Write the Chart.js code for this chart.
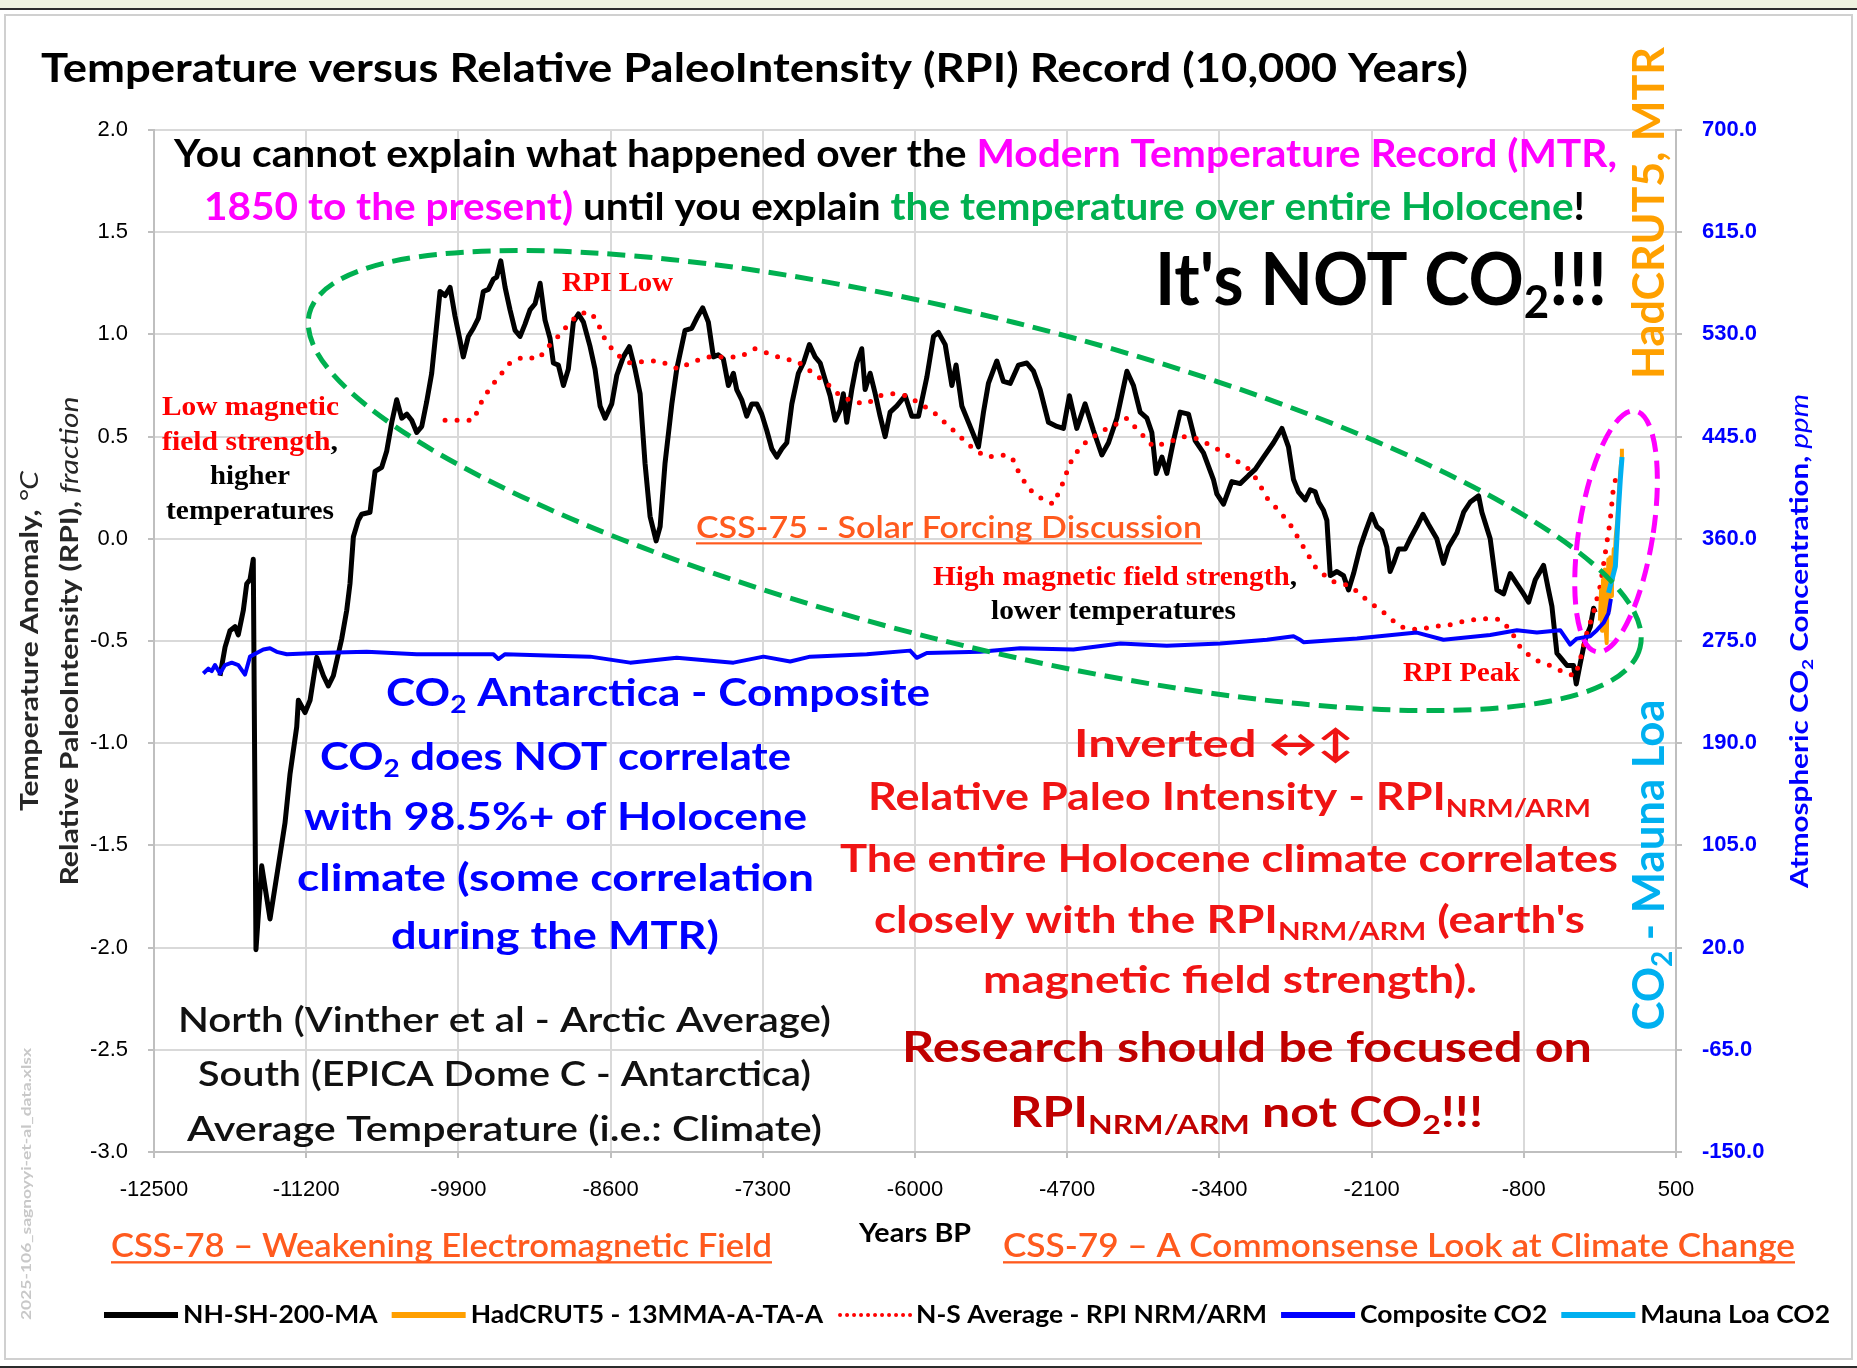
<!DOCTYPE html>
<html>
<head>
<meta charset="utf-8">
<title>Temperature versus RPI Record</title>
<script src="https://cdn.jsdelivr.net/npm/chart.js@4.4.1/dist/chart.umd.min.js"></script>
<style>
  html, body { margin: 0; padding: 0; background: #fff; }
  canvas { display: block; }
</style>
</head>
<body>
<canvas id="chart" width="1857" height="1368"></canvas>
<script>
// ===== DATA =====
// [year BP, value] pairs

// NH-SH-200-MA temperature anomaly, degC
const NH_SH_200_MA = [
  [-11936,-0.67],[-11893,-0.53],[-11851,-0.45],[-11808,-0.43],[-11780,-0.47],[-11737,-0.35],
  [-11708,-0.22],[-11680,-0.20],[-11652,-0.10],[-11629,-2.01],[-11580,-1.60],[-11509,-1.86],
  [-11438,-1.60],[-11381,-1.39],[-11338,-1.15],[-11281,-0.92],[-11267,-0.79],[-11210,-0.85],
  [-11167,-0.79],[-11110,-0.58],[-11053,-0.67],[-11011,-0.72],[-10968,-0.67],[-10897,-0.49],
  [-10854,-0.35],[-10826,-0.22],[-10797,0.01],[-10755,0.09],[-10726,0.12],[-10655,0.13],
  [-10612,0.33],[-10555,0.35],[-10512,0.43],[-10469,0.57],[-10427,0.68],[-10384,0.59],
  [-10341,0.61],[-10299,0.58],[-10256,0.52],[-10213,0.55],[-10171,0.67],[-10128,0.81],
  [-10085,1.05],[-10057,1.21],[-10014,1.19],[-9971,1.23],[-9929,1.09],[-9886,0.97],
  [-9858,0.89],[-9815,0.99],[-9772,1.03],[-9729,1.08],[-9687,1.21],[-9644,1.22],
  [-9601,1.27],[-9573,1.28],[-9538,1.36],[-9501,1.23],[-9459,1.12],[-9416,1.02],
  [-9373,0.99],[-9331,1.05],[-9288,1.12],[-9245,1.15],[-9202,1.25],[-9160,1.07],
  [-9117,0.98],[-9089,0.86],[-9046,0.85],[-9003,0.75],[-8961,0.83],[-8918,1.06],
  [-8875,1.10],[-8832,1.06],[-8775,0.94],[-8733,0.83],[-8690,0.65],[-8647,0.59],
  [-8590,0.66],[-8547,0.80],[-8491,0.89],[-8440,0.94],[-8391,0.83],[-8348,0.71],
  [-8306,0.37],[-8263,0.11],[-8211,-0.01],[-8177,0.06],[-8135,0.37],[-8077,0.66],
  [-8035,0.83],[-7964,1.02],[-7907,1.03],[-7864,1.08],[-7813,1.13],[-7765,1.06],
  [-7722,0.89],[-7680,0.90],[-7637,0.88],[-7594,0.75],[-7551,0.81],[-7523,0.73],
  [-7480,0.68],[-7437,0.60],[-7394,0.66],[-7351,0.66],[-7309,0.61],[-7266,0.53],
  [-7223,0.44],[-7180,0.40],[-7138,0.44],[-7095,0.47],[-7052,0.66],[-6996,0.81],
  [-6953,0.86],[-6902,0.95],[-6853,0.89],[-6810,0.86],[-6768,0.78],[-6725,0.70],
  [-6682,0.58],[-6640,0.63],[-6612,0.71],[-6583,0.57],[-6540,0.73],[-6497,0.86],
  [-6455,0.93],[-6426,0.73],[-6383,0.81],[-6340,0.71],[-6298,0.60],[-6255,0.50],
  [-6212,0.62],[-6155,0.65],[-6084,0.70],[-6027,0.60],[-5970,0.60],[-5899,0.79],
  [-5842,0.99],[-5800,1.01],[-5742,0.95],[-5685,0.75],[-5649,0.85],[-5600,0.65],
  [-5529,0.55],[-5458,0.45],[-5415,0.62],[-5373,0.76],[-5301,0.87],[-5245,0.77],
  [-5187,0.76],[-5116,0.85],[-5045,0.86],[-4988,0.82],[-4931,0.73],[-4860,0.57],
  [-4788,0.55],[-4732,0.54],[-4681,0.70],[-4618,0.54],[-4547,0.66],[-4476,0.53],
  [-4404,0.41],[-4347,0.47],[-4276,0.59],[-4190,0.82],[-4134,0.75],[-4077,0.62],
  [-4019,0.59],[-3977,0.52],[-3940,0.32],[-3891,0.40],[-3849,0.32],[-3792,0.48],
  [-3735,0.62],[-3664,0.61],[-3607,0.48],[-3536,0.42],[-3451,0.29],[-3422,0.22],
  [-3365,0.17],[-3294,0.28],[-3223,0.27],[-3151,0.31],[-3094,0.34],[-3023,0.40],
  [-2938,0.47],[-2866,0.54],[-2810,0.45],[-2767,0.29],[-2725,0.23],[-2667,0.19],
  [-2624,0.24],[-2582,0.23],[-2553,0.18],[-2511,0.14],[-2482,0.09],[-2453,-0.18],
  [-2396,-0.16],[-2340,-0.18],[-2297,-0.25],[-2254,-0.17],[-2197,-0.04],[-2155,0.03],
  [-2098,0.12],[-2055,0.06],[-2012,0.04],[-1970,-0.04],[-1942,-0.16],[-1913,-0.12],
  [-1870,-0.05],[-1813,-0.05],[-1771,0.00],[-1714,0.06],[-1662,0.12],[-1614,0.07],
  [-1543,0.00],[-1486,-0.12],[-1443,-0.04],[-1371,0.03],[-1314,0.13],[-1257,0.18],
  [-1186,0.21],[-1158,0.13],[-1087,0.00],[-1030,-0.25],[-973,-0.27],[-916,-0.17],
  [-859,-0.22],[-802,-0.27],[-759,-0.31],[-702,-0.20],[-631,-0.13],[-589,-0.25],
  [-560,-0.33],[-517,-0.56],[-474,-0.59],[-431,-0.62],[-375,-0.62],[-352,-0.71],
  [-318,-0.61],[-275,-0.49],[-232,-0.43],[-204,-0.34],[-190,-0.36]
];

// HadCRUT5 - 13MMA-A-TA-A, degC
const HADCRUT5_13MMA = [
  [-150,-0.40],[-140,-0.25],[-132,-0.45],[-124,-0.20],[-116,-0.38],[-108,-0.15],
  [-100,-0.45],[-92,-0.51],[-85,-0.30],[-78,-0.10],[-70,-0.35],[-62,-0.09],
  [-55,-0.28],[-47,-0.12],[-40,-0.20],[-32,-0.05],[-24,-0.12],[-16,0.00],
  [-8,0.05],[0,0.10],[8,0.18],[16,0.26],[24,0.33],[32,0.38],[38,0.44]
];

// N-S Average - RPI NRM/ARM (inverted), fraction
const RPI_NS_AVERAGE = [
  [-10014,0.58],[-9772,0.58],[-9687,0.69],[-9573,0.78],[-9459,0.86],[-9345,0.89],
  [-9217,0.88],[-9117,0.95],[-9031,1.00],[-8946,1.06],[-8861,1.10],[-8781,1.11],
  [-8718,1.07],[-8662,0.99],[-8590,0.93],[-8519,0.89],[-8433,0.86],[-8291,0.87],
  [-8177,0.87],[-8021,0.83],[-7921,0.86],[-7779,0.89],[-7637,0.89],[-7494,0.89],
  [-7366,0.93],[-7266,0.91],[-7124,0.88],[-7010,0.87],[-6868,0.81],[-6753,0.76],
  [-6640,0.70],[-6526,0.67],[-6412,0.66],[-6298,0.70],[-6184,0.71],[-6070,0.70],
  [-5956,0.66],[-5842,0.62],[-5728,0.56],[-5614,0.50],[-5501,0.44],[-5387,0.40],
  [-5258,0.41],[-5173,0.40],[-5102,0.31],[-5017,0.24],[-4903,0.19],[-4817,0.17],
  [-4746,0.26],[-4675,0.37],[-4589,0.45],[-4476,0.50],[-4362,0.54],[-4248,0.57],
  [-4191,0.59],[-4077,0.52],[-3963,0.45],[-3849,0.47],[-3707,0.50],[-3592,0.49],
  [-3450,0.45],[-3308,0.40],[-3165,0.35],[-3080,0.29],[-2994,0.20],[-2881,0.13],
  [-2795,0.07],[-2682,-0.04],[-2568,-0.15],[-2425,-0.21],[-2283,-0.23],[-2140,-0.30],
  [-1998,-0.36],[-1856,-0.43],[-1714,-0.445],[-1571,-0.43],[-1429,-0.42],[-1287,-0.40],
  [-1145,-0.39],[-1001,-0.395],[-916,-0.445],[-831,-0.53],[-717,-0.59],[-575,-0.62],
  [-432,-0.66],[-361,-0.67],[-318,-0.59],[-261,-0.46],[-204,-0.36],[-147,-0.23],
  [-104,-0.07],[-62,0.09],[-33,0.26],[-5,0.31]
];

// Composite CO2 (Antarctica), ppm
const CO2_COMPOSITE = [
  [-12079,248],[-12036,252],[-12007,250],[-11979,255],[-11936,248],[-11893,255],
  [-11836,257],[-11780,255],[-11723,247],[-11680,262],[-11623,265],[-11566,268],
  [-11509,269],[-11452,266],[-11366,264],[-11110,265],[-10683,266],[-10256,264],
  [-9601,264],[-9559,260],[-9501,264],[-9146,263],[-8775,262],[-8433,257],
  [-8035,261],[-7551,257],[-7294,262],[-7066,258],[-6896,262],[-6412,264],
  [-6042,267],[-5985,261],[-5899,265],[-5444,266],[-5102,269],[-4647,268],
  [-4246,273],[-3849,271],[-3393,273],[-2994,276],[-2767,279],[-2710,276],
  [-2682,274],[-2225,277],[-1714,282],[-1486,276],[-1087,280],[-859,284],
  [-688,282],[-489,284],[-404,272],[-347,277],[-233,279],[-176,284],
  [-119,290],[-77,298],[-56,310]
];

// Mauna Loa CO2, ppm
const CO2_MAUNA_LOA = [
  [-76,315],[-47,326],[-18,337],[-4,362],[10,387],[24,409],[39,428]
];

const SERIES_LABELS = ['NH-SH-200-MA', 'HadCRUT5 - 13MMA-A-TA-A', 'N-S Average - RPI NRM/ARM', 'Composite CO2', 'Mauna Loa CO2'];

const X_TICKS = [-12500, -11200, -9900, -8600, -7300, -6000, -4700, -3400, -2100, -800, 500];
const Y_TICKS = [-3.0, -2.5, -2.0, -1.5, -1.0, -0.5, 0.0, 0.5, 1.0, 1.5, 2.0];
const Y2_TICKS = [-150, -65, 20, 105, 190, 275, 360, 445, 530, 615, 700];

// ===== STYLE =====
const SANS = 'Lato, "Open Sans", "DejaVu Sans", sans-serif';
const SERIF = '"Liberation Serif", "Times New Roman", serif';
const TICK_FONT = '"Liberation Sans", Arial, sans-serif';
const C = {
  magenta: '#ff00ff', green: '#00b050', red: '#ff0000', red2: '#f01414', darkred: '#c00000',
  blue: '#0000ff', link: '#ff5a1e', orange: '#ffa000', cyan: '#00b0f0', grid: '#d9d9d9'
};

// annotation ellipses (centre in data units, radii in px)
const ELLIPSES = [
  { year: -5490, value: 0.285, rx: 686, ry: 163, rot: 14.1, color: C.green },
  { year: -12, value: 0.036, rx: 37, ry: 122, rot: 9.1, color: C.magenta }
];

// annotation texts: x,y = left/middle (or centre when align:'center'), w = target width
const TEXTS = [
  { x: 41, y: 69, w: 1427, size: 41, segs: [['Temperature versus Relative PaleoIntensity (RPI) Record (10,000 Years)', '#000']] },
  { x: 174, y: 155, w: 1443, size: 38, segs: [['You cannot explain what happened over the ', '#000'], ['Modern Temperature Record (MTR,', C.magenta]] },
  { x: 204, y: 208, w: 1381, size: 38, segs: [['1850 to the present)', C.magenta], [' until you explain ', '#000'], ['the temperature over entire Holocene', C.green], ['!', '#000']] },
  { x: 1155, y: 282, w: 452, size: 72, segs: [["It's NOT CO", '#000'], ['2', '#000', 'sub'], ['!!!', '#000']] },

  { x: 562, y: 284, w: 111, size: 28, family: SERIF, segs: [['RPI Low', C.red]] },
  { x: 162, y: 408, w: 177, size: 28, family: SERIF, segs: [['Low magnetic', C.red]] },
  { x: 162, y: 443, w: 176, size: 28, family: SERIF, segs: [['field strength', C.red], [',', '#000']] },
  { x: 210, y: 477, w: 80, size: 28, family: SERIF, segs: [['higher', '#000']] },
  { x: 166, y: 512, w: 168, size: 28, family: SERIF, segs: [['temperatures', '#000']] },
  { x: 696, y: 528, w: 506, size: 31, weight: 600, underline: true, segs: [['CSS-75 - Solar Forcing Discussion', C.link]] },
  { x: 933, y: 578, w: 364, size: 28, family: SERIF, segs: [['High magnetic field strength', C.red], [',', '#000']] },
  { x: 991, y: 612, w: 245, size: 28, family: SERIF, segs: [['lower temperatures', '#000']] },
  { x: 1403, y: 674, w: 117, size: 28, family: SERIF, segs: [['RPI Peak', C.red]] },

  { x: 386, y: 694, w: 544, size: 38, segs: [['CO', C.blue], ['2', C.blue, 'sub'], [' Antarctica - Composite', C.blue]] },
  { x: 320, y: 758, w: 471, size: 38, segs: [['CO', C.blue], ['2', C.blue, 'sub'], [' does NOT correlate', C.blue]] },
  { x: 304, y: 818, w: 503, size: 38, segs: [['with 98.5%+ of Holocene', C.blue]] },
  { x: 297, y: 879, w: 517, size: 38, segs: [['climate (some correlation', C.blue]] },
  { x: 391, y: 937, w: 328, size: 38, segs: [['during the MTR)', C.blue]] },

  { x: 178, y: 1021, w: 653, size: 34, weight: 600, segs: [['North (Vinther et al - Arctic Average)', '#111']] },
  { x: 198, y: 1075, w: 613, size: 34, weight: 600, segs: [['South (EPICA Dome C - Antarctica)', '#111']] },
  { x: 187, y: 1130, w: 635, size: 34, weight: 600, segs: [['Average Temperature (i.e.: Climate)', '#111']] },

  { x: 1074, y: 745, w: 280, size: 38, segs: [['Inverted \u2194\u2195', C.red2]] },
  { x: 868, y: 798, w: 723, size: 38, segs: [['Relative Paleo Intensity - RPI', C.red2], ['NRM/ARM', C.red2, 'sub']] },
  { x: 840, y: 860, w: 778, size: 38, segs: [['The entire Holocene climate correlates', C.red2]] },
  { x: 874, y: 921, w: 711, size: 38, segs: [['closely with the RPI', C.red2], ['NRM/ARM', C.red2, 'sub'], [" (earth's", C.red2]] },
  { x: 983, y: 981, w: 494, size: 38, segs: [['magnetic field strength).', C.red2]] },
  { x: 902, y: 1048, w: 690, size: 42, segs: [['Research should be focused on', C.darkred]] },
  { x: 1010, y: 1113, w: 473, size: 42, segs: [['RPI', C.darkred], ['NRM/ARM', C.darkred, 'sub'], [' not CO', C.darkred], ['2', C.darkred, 'sub'], ['!!!', C.darkred]] },

  { x: 859, y: 1234, w: 112, size: 26, segs: [['Years BP', '#000']] },
  { x: 111, y: 1246, w: 661, size: 33, weight: 600, underline: true, segs: [['CSS-78 \u2013 Weakening Electromagnetic Field', C.link]] },
  { x: 1003, y: 1246, w: 792, size: 33, weight: 600, underline: true, segs: [['CSS-79 \u2013 A Commonsense Look at Climate Change', C.link]] },

  { x: 30, y: 641, w: 340, size: 25, align: 'center', rot: -90, segs: [['Temperature Anomaly, ', '#262626'], ['\u00b0C', '#262626', 'i n']] },
  { x: 70, y: 641, w: 489, size: 25, align: 'center', rot: -90, segs: [['Relative PaleoIntensity (RPI), ', '#262626'], ['fraction', '#262626', 'i n']] },
  { x: 1800, y: 641, w: 494, size: 25, align: 'center', rot: -90, segs: [['Atmospheric CO', C.blue], ['2', C.blue, 'sub'], [' Concentration, ', C.blue], ['ppm', C.blue, 'i n']] },
  { x: 1650, y: 213, w: 332, size: 44, align: 'center', rot: -90, segs: [['HadCRUT5, MTR', C.orange]] },
  { x: 1650, y: 865, w: 331, size: 44, align: 'center', rot: -90, segs: [['CO', C.cyan], ['2', C.cyan, 'sub'], [' - Mauna Loa', C.cyan]] },
  { x: 26, y: 1184, w: 272, size: 14, align: 'center', rot: -90, segs: [['2025-106_sagnoyyi-et-al_data.xlsx', '#c8c8c8']] }
];

// ===== DRAW HELPERS =====
function drawText(ctx, item) {
  const size = item.size;
  const family = item.family || SANS;
  const weight = item.weight || 700;
  const parts = item.segs.map(([t, color, flag = '']) => {
    const flags = flag.split(' ');
    const sub = flags.includes('sub');
    const fs = sub ? size * 0.64 : size;
    const font = `${flags.includes('i') ? 'italic ' : ''}${flags.includes('n') ? 400 : weight} ${fs}px ${family}`;
    ctx.font = font;
    return { t, color, sub, font, w: ctx.measureText(t).width };
  });
  const total = parts.reduce((s, p) => s + p.w, 0);
  const sx = item.w ? item.w / total : 1;

  ctx.save();
  ctx.translate(item.x, item.y);
  if (item.rot) ctx.rotate(item.rot * Math.PI / 180);
  ctx.scale(sx, 1);
  ctx.textBaseline = 'middle';
  ctx.textAlign = 'left';
  let cx = item.align === 'center' ? -total / 2 : 0;
  const x0 = cx;
  parts.forEach(p => {
    ctx.font = p.font;
    ctx.fillStyle = p.color;
    ctx.fillText(p.t, cx, p.sub ? size * 0.3 : 0);
    cx += p.w;
  });
  if (item.underline) {
    ctx.fillStyle = parts[0].color;
    ctx.fillRect(x0, size * 0.46, total, Math.max(2, size * 0.07));
  }
  ctx.restore();
}

// page frame, like the screenshot border
const framePlugin = {
  id: 'frame',
  beforeDraw(chart) {
    const { ctx, width, height } = chart;
    ctx.save();
    ctx.fillStyle = '#ffffff';
    ctx.fillRect(0, 0, width, height);
    ctx.fillStyle = '#eef2df';
    ctx.fillRect(0, 0, width, 8);
    ctx.fillStyle = '#2b2b2b';
    ctx.fillRect(0, 8, width, 2);
    ctx.fillRect(0, height - 2, width, 2);
    ctx.strokeStyle = '#d0d0d0';
    ctx.lineWidth = 2;
    ctx.strokeRect(5, 15, width - 10, height - 24);
    ctx.restore();
  }
};

// ellipses, texts and legend on top of the series
const overlayPlugin = {
  id: 'overlay',
  afterDatasetsDraw(chart) {
    const { ctx, scales } = chart;
    ctx.save();
    ctx.lineWidth = 5;
    ctx.setLineDash([18, 9]);
    ELLIPSES.forEach(e => {
      ctx.strokeStyle = e.color;
      ctx.beginPath();
      ctx.ellipse(scales.x.getPixelForValue(e.year), scales.y.getPixelForValue(e.value),
        e.rx, e.ry, e.rot * Math.PI / 180, 0, Math.PI * 2);
      ctx.stroke();
    });
    ctx.restore();
  },
  afterDraw(chart) {
    const { ctx } = chart;
    TEXTS.forEach(t => drawText(ctx, t));

    // legend
    const y = 1315, x0 = 104, x1 = 1830, lineLen = 74, gap = 5, itemGap = 14;
    const sets = chart.data.datasets;
    ctx.save();
    ctx.font = `700 24px ${SANS}`;
    const widths = sets.map(d => ctx.measureText(d.label).width);
    const fixed = sets.length * (lineLen + gap) + (sets.length - 1) * itemGap;
    const sx = (x1 - x0 - fixed) / widths.reduce((a, b) => a + b, 0);
    let x = x0;
    sets.forEach((d, i) => {
      ctx.strokeStyle = d.borderColor;
      ctx.lineWidth = d.borderDash ? 4 : 6;
      ctx.lineCap = d.borderDash ? 'round' : 'butt';
      ctx.setLineDash(d.borderDash ? [0, 7] : []);
      ctx.beginPath();
      ctx.moveTo(x + (d.borderDash ? 3 : 0), y);
      ctx.lineTo(x + lineLen, y);
      ctx.stroke();
      x += lineLen + gap;
      ctx.save();
      ctx.translate(x, y);
      ctx.scale(sx, 1);
      ctx.fillStyle = '#000';
      ctx.textBaseline = 'middle';
      ctx.fillText(d.label, 0, 0);
      ctx.restore();
      x += widths[i] * sx + itemGap;
    });
    ctx.restore();
  }
};

const toXY = arr => arr.map(([x, y]) => ({ x, y }));

new Chart(document.getElementById('chart'), {
  type: 'line',
  data: {
    datasets: [
      { label: SERIES_LABELS[0], data: toXY(NH_SH_200_MA), borderColor: '#000000', borderWidth: 5, yAxisID: 'y', order: 5 },
      { label: SERIES_LABELS[1], data: toXY(HADCRUT5_13MMA), borderColor: '#ff9f00', borderWidth: 4, yAxisID: 'y', order: 3 },
      { label: SERIES_LABELS[2], data: toXY(RPI_NS_AVERAGE), borderColor: '#ff0000', borderWidth: 5,
        borderDash: [0, 12], borderCapStyle: 'round', yAxisID: 'y', order: 4 },
      { label: SERIES_LABELS[3], data: toXY(CO2_COMPOSITE), borderColor: '#0000ff', borderWidth: 4, yAxisID: 'y2', order: 2 },
      { label: SERIES_LABELS[4], data: toXY(CO2_MAUNA_LOA), borderColor: '#00b0f0', borderWidth: 5, yAxisID: 'y2', order: 1 }
    ]
  },
  options: {
    responsive: false,
    animation: false,
    elements: { point: { radius: 0 }, line: { tension: 0, borderJoinStyle: 'round' } },
    layout: { padding: { top: 130, left: 0, right: 0, bottom: 0 } },
    plugins: { legend: { display: false }, tooltip: { enabled: false }, title: { display: false } },
    scales: {
      x: {
        type: 'linear', min: -12500, max: 500,
        afterBuildTicks: s => { s.ticks = X_TICKS.map(v => ({ value: v })); },
        afterFit: s => { s.height = 216; },
        ticks: { callback: v => String(v), color: '#000', font: { family: TICK_FONT, size: 22 }, padding: 19, maxRotation: 0, autoSkip: false },
        grid: { color: C.grid, lineWidth: 2, tickLength: 6, tickColor: '#bfbfbf' },
        border: { color: '#bfbfbf', width: 2 }
      },
      y: {
        position: 'left', min: -3, max: 2,
        afterBuildTicks: s => { s.ticks = Y_TICKS.map(v => ({ value: v })); },
        afterFit: s => { s.width = 154; },
        ticks: { callback: v => v.toFixed(1), color: '#000', font: { family: TICK_FONT, size: 22 }, padding: 20 },
        grid: { color: C.grid, lineWidth: 2, tickLength: 6, tickColor: '#bfbfbf' },
        border: { color: '#bfbfbf', width: 2 }
      },
      y2: {
        position: 'right', min: -150, max: 700,
        afterBuildTicks: s => { s.ticks = Y2_TICKS.map(v => ({ value: v })); },
        afterFit: s => { s.width = 181; },
        ticks: { callback: v => v.toFixed(1), color: C.blue, font: { family: TICK_FONT, size: 22, weight: 'bold' }, padding: 20 },
        grid: { drawOnChartArea: false, tickLength: 6, color: '#bfbfbf', lineWidth: 2 },
        border: { color: '#bfbfbf', width: 2 }
      }
    }
  },
  plugins: [framePlugin, overlayPlugin]
});
</script>
</body>
</html>
